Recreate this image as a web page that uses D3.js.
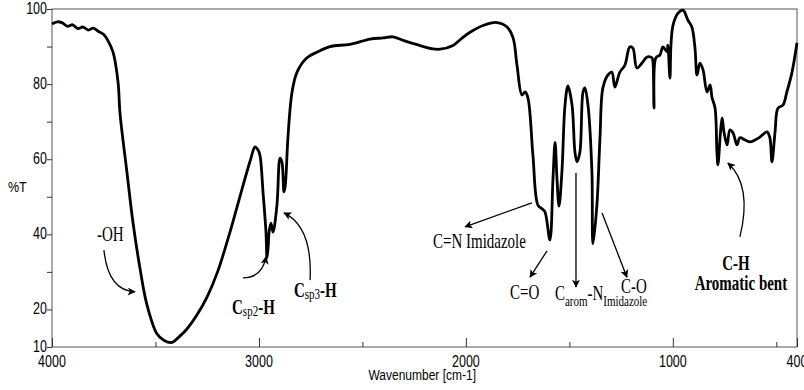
<!DOCTYPE html>
<html>
<head>
<meta charset="utf-8">
<script src="https://cdn.jsdelivr.net/npm/d3@7"></script>
<style>
  html, body { margin: 0; padding: 0; background: #fff; }
  svg { display: block; }
</style>
</head>
<body>
<div id="chart"></div>
<script>
// FT-IR spectrum, values
var wavenumber = [4000, 3975, 3950, 3925, 3900, 3875, 3850, 3825, 3800, 3775, 3750, 3729, 3705, 3681, 3671, 3638, 3609, 3575, 3541, 3493, 3460, 3420, 3390, 3348, 3300, 3251, 3200, 3140, 3077, 3040, 3019, 3005, 2995, 2980, 2966, 2961, 2955, 2951, 2942, 2932, 2913, 2898, 2889, 2879, 2874, 2869, 2860, 2840, 2816, 2768, 2720, 2657, 2560, 2463, 2400, 2352, 2300, 2236, 2160, 2125, 2062, 2020, 1980, 1917, 1850, 1801, 1772, 1753, 1729, 1714, 1700, 1676, 1652, 1632, 1618, 1594, 1579, 1569, 1560, 1550, 1536, 1521, 1507, 1487, 1473, 1463, 1449, 1434, 1425, 1410, 1391, 1386, 1367, 1352, 1338, 1314, 1295, 1280, 1256, 1232, 1208, 1193, 1174, 1149, 1125, 1101, 1096, 1091, 1082, 1062, 1048, 1028, 1024, 1014, 1009, 999, 975, 951, 927, 908, 893, 883, 869, 854, 835, 820, 811, 796, 787, 782, 770, 762, 753, 738, 724, 709, 690, 676, 651, 627, 603, 579, 545, 531, 521, 506, 492, 468, 449, 424, 400];
var transmittance = [96.0, 96.6, 96.3, 95.4, 95.8, 94.8, 95.2, 94.4, 94.9, 94.0, 93.2, 91.5, 88.5, 80.6, 72.0, 56.6, 43.3, 31.0, 21.2, 13.5, 11.8, 11.2, 12.5, 14.8, 18.5, 23.3, 30.0, 40.6, 53.0, 60.0, 63.3, 62.5, 61.0, 51.0, 40.6, 33.7, 37.0, 40.6, 43.0, 40.6, 47.8, 60.3, 59.3, 51.3, 52.5, 55.8, 65.7, 77.9, 83.2, 87.0, 88.5, 90.0, 90.6, 92.0, 92.3, 92.6, 91.6, 90.5, 89.4, 89.3, 90.3, 92.2, 93.8, 95.6, 96.4, 95.2, 92.3, 85.0, 77.1, 77.9, 76.3, 61.0, 47.8, 46.8, 46.0, 38.5, 55.0, 64.5, 55.0, 47.5, 56.6, 74.4, 79.5, 74.4, 61.9, 59.3, 61.9, 77.9, 79.0, 74.4, 56.6, 37.5, 47.8, 65.7, 79.0, 82.4, 83.2, 79.2, 83.2, 85.0, 89.9, 89.6, 84.3, 85.6, 87.2, 87.0, 85.9, 73.6, 87.0, 87.8, 89.9, 88.6, 90.4, 81.6, 90.5, 95.7, 98.9, 99.7, 97.0, 95.2, 89.6, 82.4, 85.6, 83.8, 77.9, 79.8, 76.5, 73.6, 62.0, 58.5, 67.0, 71.0, 67.3, 63.8, 67.8, 67.0, 63.8, 65.7, 65.1, 64.6, 65.1, 65.9, 67.3, 65.7, 59.3, 67.3, 73.6, 74.4, 77.9, 83.2, 91.0];

var xMajorTicks = [4000, 3000, 2000, 1000, 400];
var xMinorTicks = [3500, 2500, 1500, 500];
var yMajorTicks = [100, 80, 60, 40, 20, 10];
var yMinorTicks = [90, 70, 50, 30];

// band annotations, anchored in data units (wavenumber, %T)
var notes = [
  { parts: [["-OH", 0]], at: [3783, 38.2], anchor: "start" },
  { parts: [["C", 1], ["sp2", 2], ["-H", 1]], at: [3130, 18.8], anchor: "start" },
  { parts: [["C", 1], ["sp3", 2], ["-H", 1]], at: [2831, 23.3], anchor: "start" },
  { parts: [["C=N Imidazole", 0]], at: [2159, 36.4], anchor: "start" },
  { parts: [["C=O", 0]], at: [1787, 22.8], anchor: "start" },
  { parts: [["C", 0], ["arom", 3], ["-N", 0], ["Imidazole", 3]], at: [1570, 22.5], anchor: "start" },
  { parts: [["C-O", 0]], at: [1251, 24.4], anchor: "start" },
  { parts: [["C-H", 1]], at: [695, 30.5], anchor: "middle" },
  { parts: [["Aromatic bent", 1]], at: [671, 25.2], anchor: "middle" }
];
var arrows = [
  [[3749, 35.8], [3729, 25.0], [3599, 24.7]],
  [[3077, 28.4], [2985, 28.4], [2966, 34.0]],
  [[2753, 27.8], [2740, 42.0], [2879, 45.7]],
  [[1681, 48.4], null, [2004, 42.0]],
  [[1608, 35.6], null, [1690, 28.6]],
  [[1468, 56.3], null, [1468, 26.0]],
  [[1342, 45.7], null, [1222, 28.6]],
  [[676, 39.3], [615, 53.0], [734, 59.0]]
];

var width = 804, height = 390;
var margin = { left: 52, right: 7, top: 9, bottom: 43 };

var svg = d3.select("#chart").append("svg")
  .attr("width", width)
  .attr("height", height);

var defs = svg.append("defs");
defs.append("marker")
  .attr("id", "head")
  .attr("viewBox", "0 0 10 10")
  .attr("refX", 9).attr("refY", 5)
  .attr("markerWidth", 11).attr("markerHeight", 8)
  .attr("markerUnits", "userSpaceOnUse")
  .attr("orient", "auto")
  .append("path")
  .attr("d", "M0,0 L10,5 L0,10 L2.5,5 Z")
  .attr("fill", "#000");

var x = d3.scaleLinear().domain([4000, 400]).range([margin.left, width - margin.right]);
var y = d3.scaleLinear().domain([10, 100]).range([height - margin.bottom, margin.top]);

var sans = "'Liberation Sans', Arial, sans-serif";
var serif = "'Liberation Serif', 'Times New Roman', serif";

// frame
svg.append("rect")
  .attr("x", x(4000)).attr("y", y(100))
  .attr("width", x(400) - x(4000)).attr("height", y(10) - y(100))
  .attr("fill", "none").attr("stroke", "#555").attr("stroke-width", 1);

// x axis: ticks point up into the plot
var xAxis = d3.axisTop(x).tickValues(xMajorTicks).tickSize(9).tickFormat("");
svg.append("g").attr("transform", "translate(0," + y(10) + ")").call(xAxis)
  .call(function(g) { g.select(".domain").remove(); g.selectAll("line").attr("stroke", "#333"); });
var xAxisMinor = d3.axisTop(x).tickValues(xMinorTicks).tickSize(5).tickFormat("");
svg.append("g").attr("transform", "translate(0," + y(10) + ")").call(xAxisMinor)
  .call(function(g) { g.select(".domain").remove(); g.selectAll("line").attr("stroke", "#333"); });

var yAxis = d3.axisLeft(y).tickValues(yMajorTicks.concat(yMinorTicks)).tickSize(5).tickFormat("");
svg.append("g").attr("transform", "translate(" + x(4000) + ",0)").call(yAxis)
  .call(function(g) { g.select(".domain").remove(); g.selectAll("line").attr("stroke", "#333"); });

// tick labels (drawn tall & narrow like the source)
function tallText(px, py, str, anchor, size, sy) {
  return svg.append("text")
    .attr("transform", "translate(" + px + "," + py + ") scale(1," + sy + ")")
    .attr("text-anchor", anchor)
    .attr("font-family", sans)
    .attr("font-size", size)
    .attr("fill", "#000")
    .text(str);
}
xMajorTicks.forEach(function(t) { tallText(x(t), y(10) + 20, t, "middle", 12.5, 1.25); });
yMajorTicks.forEach(function(t) { tallText(x(4000) - 5, y(t) + 5, t, "end", 12.5, 1.25); });
tallText(8, 192, "%T", "start", 12.5, 1.2);
tallText(476, 380, "Wavenumber [cm-1]", "end", 12, 1.15);

// spectrum
var points = wavenumber.map(function(w, i) { return [w, transmittance[i]]; });
var line = d3.line()
  .x(function(d) { return x(d[0]); })
  .y(function(d) { return y(d[1]); })
  .curve(d3.curveCatmullRom.alpha(0.5));
svg.append("path")
  .datum(points)
  .attr("d", line)
  .attr("fill", "none")
  .attr("stroke", "#000")
  .attr("stroke-width", 2.8)
  .attr("stroke-linejoin", "round");

// arrows
arrows.forEach(function(a) {
  var p = d3.path();
  p.moveTo(x(a[0][0]), y(a[0][1]));
  if (a[1]) p.quadraticCurveTo(x(a[1][0]), y(a[1][1]), x(a[2][0]), y(a[2][1]));
  else p.lineTo(x(a[2][0]), y(a[2][1]));
  svg.append("path")
    .attr("d", p.toString())
    .attr("fill", "none")
    .attr("stroke", "#000")
    .attr("stroke-width", 1.3)
    .attr("marker-end", "url(#head)");
});

// notes: 0 regular, 1 bold, 2 small regular subscript, 3 lowered subscript
notes.forEach(function(n) {
  var t = svg.append("text")
    .attr("transform", "translate(" + x(n.at[0]) + "," + y(n.at[1]) + ") scale(1,1.4)")
    .attr("text-anchor", n.anchor)
    .attr("font-family", serif)
    .attr("fill", "#000");
  var lowered = 0;
  n.parts.forEach(function(p) {
    var s = t.append("tspan").text(p[0]);
    var shift = 0;
    if (p[1] === 2) shift = 1.5;
    if (p[1] === 3) shift = 4;
    s.attr("dy", shift - lowered);
    lowered = shift;
    s.attr("font-size", p[1] >= 2 ? 11 : 15)
      .attr("font-weight", p[1] === 1 ? "bold" : "normal");
  });
});
</script>
</body>
</html>
